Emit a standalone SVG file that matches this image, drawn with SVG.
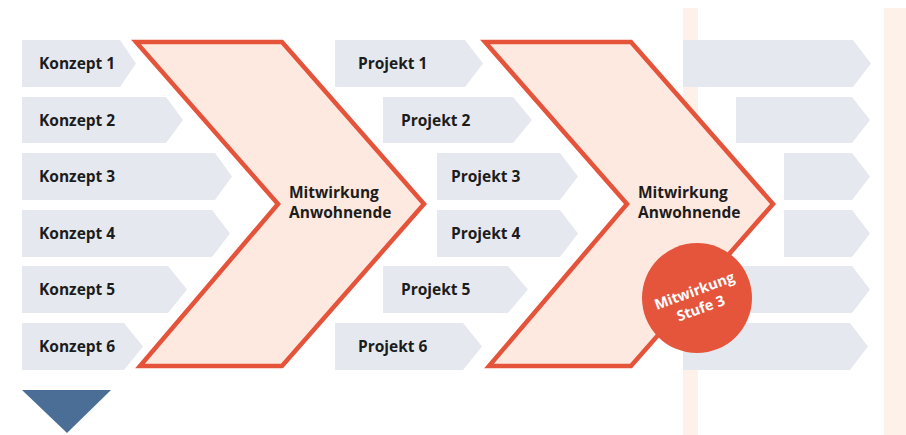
<svg xmlns="http://www.w3.org/2000/svg" width="906" height="435" viewBox="0 0 906 435">
<style>
.box{fill:#e5e9ef}
.lbl{font-family:"Open Sans","Liberation Sans",sans-serif;font-weight:bold;font-size:15.5px;fill:#1c1c1c}
.chev{fill:#fde9df;stroke:#e4533a;stroke-width:4.5;stroke-linejoin:miter}
.band{fill:#fef1ea}
.ctext{font-family:"Open Sans","Liberation Sans",sans-serif;font-weight:bold;font-size:14.5px;fill:#ffffff;text-anchor:middle}
</style>
<rect width="906" height="435" fill="#ffffff"/>
<g id="bands">
<rect class="band" x="683" y="8" width="15" height="427"/>
<rect class="band" x="884" y="8" width="22" height="427"/>
</g>
<g id="konzept1"><polygon class="box" points="22,40 120,40 136,63.5 120,87 22,87"/><text class="lbl" x="39" y="69">Konzept 1</text></g>
<g id="konzept2"><polygon class="box" points="22,97 166,97 183,120 166,143 22,143"/><text class="lbl" x="39" y="126">Konzept 2</text></g>
<g id="konzept3"><polygon class="box" points="22,153 215,153 232,176.5 215,200 22,200"/><text class="lbl" x="39" y="182">Konzept 3</text></g>
<g id="konzept4"><polygon class="box" points="22,210 212,210 230,233.5 212,257 22,257"/><text class="lbl" x="39" y="239">Konzept 4</text></g>
<g id="konzept5"><polygon class="box" points="22,266 168,266 187,289.5 168,313 22,313"/><text class="lbl" x="39" y="295">Konzept 5</text></g>
<g id="konzept6"><polygon class="box" points="22,323 124,323 143,346.5 124,370 22,370"/><text class="lbl" x="39" y="352">Konzept 6</text></g>
<g id="chevron1"><polygon class="chev" points="136,42 282,42 424,204 282,366 140,366 278,204"/><text class="lbl" x="289" y="198">Mitwirkung</text><text class="lbl" x="289" y="218">Anwohnende</text></g>
<g id="projekt1"><polygon class="box" points="335,40 465,40 483,63.5 465,87 335,87"/><text class="lbl" x="358" y="69">Projekt 1</text></g>
<g id="projekt2"><polygon class="box" points="383,97 513,97 532,120 513,143 383,143"/><text class="lbl" x="401" y="126">Projekt 2</text></g>
<g id="projekt3"><polygon class="box" points="437,153 560,153 578,176.5 560,200 437,200"/><text class="lbl" x="451" y="182">Projekt 3</text></g>
<g id="projekt4"><polygon class="box" points="437,210 560,210 578,233.5 560,257 437,257"/><text class="lbl" x="451" y="239">Projekt 4</text></g>
<g id="projekt5"><polygon class="box" points="383,266 508,266 528,289.5 508,313 383,313"/><text class="lbl" x="401" y="295">Projekt 5</text></g>
<g id="projekt6"><polygon class="box" points="335,323 463,323 482,346.5 463,370 335,370"/><text class="lbl" x="358" y="352">Projekt 6</text></g>
<g id="chevron2"><polygon class="chev" points="485,42 631,42 773,204 631,366 489,366 627,204"/><text class="lbl" x="638" y="198">Mitwirkung</text><text class="lbl" x="638" y="218">Anwohnende</text></g>
<g id="stufe3row1"><polygon class="box" points="683,40 853,40 871,63.5 853,87 683,87"/></g>
<g id="stufe3row2"><polygon class="box" points="736,97 852,97 870,120 852,143 736,143"/></g>
<g id="stufe3row3"><polygon class="box" points="784,153 852,153 870,176.5 852,200 784,200"/></g>
<g id="stufe3row4"><polygon class="box" points="784,210 852,210 870,233.5 852,257 784,257"/></g>
<g id="stufe3row5"><polygon class="box" points="736,266 852,266 870,289.5 852,313 736,313"/></g>
<g id="stufe3row6"><polygon class="box" points="683,323 850,323 868,346.5 850,370 683,370"/></g>
<g id="badge"><circle cx="697" cy="298" r="55" fill="#e4553b"/><g transform="rotate(-20 697 298)"><text class="ctext" x="697" y="295.5">Mitwirkung</text><text class="ctext" x="697" y="314">Stufe 3</text></g></g>
<g id="arrow"><polygon points="22,390 111,390 67,433" fill="#4a6e96"/></g>
<g id="connectors"></g>
</svg>
